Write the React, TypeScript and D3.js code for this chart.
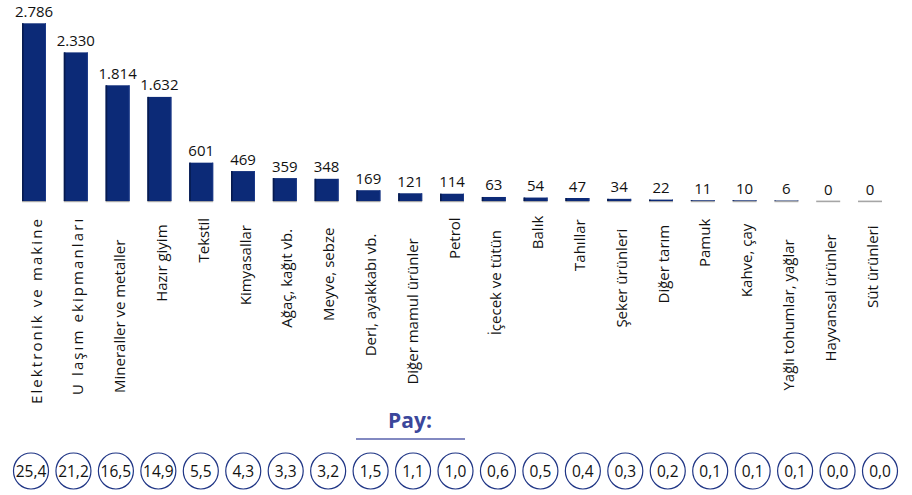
import React, { useMemo } from "react";
import * as d3 from "d3";

const categories = [
  "Elektronik ve makine",
  "U laşım ekipmanları",
  "Mineraller ve metaller",
  "Hazır giyim",
  "Tekstil",
  "Kimyasallar",
  "Ağaç, kağıt vb.",
  "Meyve, sebze",
  "Deri, ayakkabı vb.",
  "Diğer mamul ürünler",
  "Petrol",
  "İçecek ve tütün",
  "Balık",
  "Tahıllar",
  "Şeker ürünleri",
  "Diğer tarım",
  "Pamuk",
  "Kahve, çay",
  "Yağlı tohumlar, yağlar",
  "Hayvansal ürünler",
  "Süt ürünleri",
];

const values = [2786, 2330, 1814, 1632, 601, 469, 359, 348, 169, 121, 114, 63, 54, 47, 34, 22, 11, 10, 6, 0, 0];

const shares = [25.4, 21.2, 16.5, 14.9, 5.5, 4.3, 3.3, 3.2, 1.5, 1.1, 1.0, 0.6, 0.5, 0.4, 0.3, 0.2, 0.1, 0.1, 0.1, 0.0, 0.0];

const spacedLabels = ["Elektronik ve makine", "U laşım ekipmanları"];

const shareTitle = "Pay:";

const W = 912;
const H = 495;
const FONT = "'Open Sans', 'DejaVu Sans', sans-serif";
const LABEL_SIZE = 15;

const locale = d3.formatLocale({ decimal: ",", thousands: ".", grouping: [3], currency: ["", ""] });
const fmtThousands = locale.format(",d");
const fmtShare = locale.format(".1f");

function measure(text: string, size: number): number {
  if (typeof document === "undefined") return text.length * size * 0.5;
  const c = document.createElement("canvas");
  const ctx = c.getContext("2d");
  if (!ctx) return text.length * size * 0.5;
  ctx.font = `${size}px 'Open Sans'`;
  return ctx.measureText(text).width;
}

export default function App() {
  const x = useMemo(
    () => d3.scaleBand<string>().domain(categories).range([13.1, 890.9]).paddingInner(0.426).paddingOuter(0.213),
    []
  );
  const y = useMemo(() => d3.scaleLinear().domain([0, 2786]).range([201, 23.3]), []);
  const cx = useMemo(() => d3.scalePoint<string>().domain(categories).range([31, 880]), []);

  const lengths = useMemo(() => categories.map((c) => measure(c, LABEL_SIZE)), []);
  const bw = x.bandwidth();

  return (
    <svg
      width={W}
      height={H}
      viewBox={`0 0 ${W} ${H}`}
      style={{ position: "absolute", left: 0, top: 0, background: "#fff" }}
      fontFamily={FONT}
    >
      {/* baseline segments */}
      {categories.map((c) => (
        <rect key={"b" + c} x={x(c)!} y={200.6} width={bw} height={1.6} fill="#a6a6a6" />
      ))}
      {/* bars */}
      {categories.map((c, i) => {
        const h = y(0) - y(values[i]);
        if (h <= 0) return null;
        return (
          <g key={"bar" + c}>
            <rect x={x(c)!} y={y(values[i])} width={bw} height={h} fill="#0c2a77" />
            <rect x={x(c)!} y={y(values[i])} width={Math.min(1.6, bw)} height={h} fill="#061a4f" />
            <rect x={x(c)! + bw - 1} y={y(values[i])} width={1} height={h} fill="#1a3888" />
          </g>
        );
      })}
      {/* value labels */}
      {categories.map((c, i) => (
        <text
          key={"v" + c}
          x={x(c)! + bw / 2}
          y={y(values[i]) - 6.5}
          textAnchor="middle"
          fontSize={15}
          fill="#111"
        >
          {fmtThousands(values[i])}
        </text>
      ))}
      {/* category labels */}
      {categories.map((c, i) => {
        const cxp = x(c)! + bw / 2;
        const cy = 209 + 0.7 * lengths[i];
        const spaced = spacedLabels.includes(c);
        return (
          <text
            key={"c" + c}
            transform={`translate(${cxp},${cy}) rotate(-90)`}
            y={7.5}
            textAnchor="middle"
            fontSize={LABEL_SIZE}
            fill="#111"
            letterSpacing={spaced ? 2.1 : 0}
          >
            {c}
          </text>
        );
      })}
      {/* Pay title */}
      <text x={410} y={428} textAnchor="middle" fontSize={21} fontWeight="bold" fill="#3b479b">
        {shareTitle}
      </text>
      <line x1={356} x2={465} y1={439} y2={439} stroke="#5862ad" strokeWidth={1.5} />
      {/* share circles */}
      {categories.map((c, i) => (
        <g key={"s" + c}>
          <ellipse cx={cx(c)!} cy={471} rx={17.5} ry={18} fill="#fff" stroke="#1f3585" strokeWidth={1.2} />
          <text x={cx(c)!} y={476.5} textAnchor="middle" fontSize={15.5} fill="#111">
            {fmtShare(shares[i])}
          </text>
        </g>
      ))}
    </svg>
  );
}
